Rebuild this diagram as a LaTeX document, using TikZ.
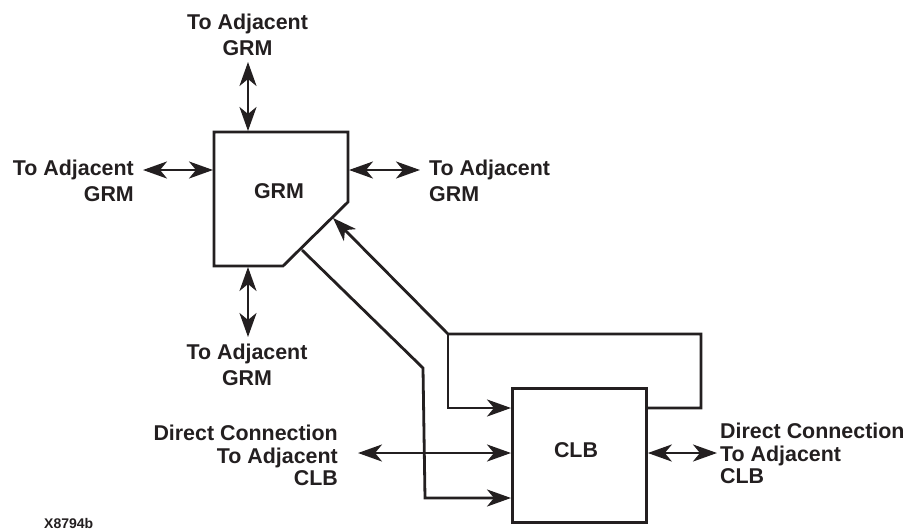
\documentclass[tikz,border=0pt]{standalone}
\usepackage{fontspec}
\setmainfont{Liberation Sans}
\usetikzlibrary{arrows.meta}
\definecolor{ink}{HTML}{231F20}
\tikzset{
  wire/.style={line width=2.8pt,ink},
  tip/.tip={Stealth[length=24pt,width=17pt,inset=7pt]},
  dbl/.style={wire,tip-tip},
  sgl/.style={wire,-tip},
  lbl/.style={font=\bfseries\fontsize{21.4}{26}\selectfont,inner sep=0pt,align=center,text=ink},
  tight/.style={font=\bfseries\fontsize{21.4}{22.5}\selectfont},
}
\begin{document}
\begin{tikzpicture}[x=1pt,y=-1pt]
\useasboundingbox (0,0) rectangle (906,531);
% GRM
\coordinate (g1) at (214,132);
\coordinate (g2) at (348,132);
\coordinate (g3) at (348,202);
\coordinate (g4) at (283,266);
\coordinate (g5) at (214,266);
\draw[wire,line join=miter] (g1)--(g2)--(g3)--(g4)--(g5)--cycle;
\node[lbl] (grm) at (279,191) {GRM};
% CLB
\node[draw,wire,minimum width=134pt,minimum height=134pt,inner sep=0pt,anchor=north west] (clb) at (511,387) {};
\node[lbl] (clbt) at (576,450) {CLB};
% Labels
\node[lbl] (top) at (247.5,35) {To Adjacent\\GRM};
\node[lbl,align=right,anchor=east] (left) at (134,181) {To Adjacent\\GRM};
\node[lbl,align=left,anchor=west] (right) at (429,181) {To Adjacent\\GRM};
\node[lbl] (bot) at (247,365) {To Adjacent\\GRM};
\node[lbl,tight,align=right,anchor=east] (dl) at (338,455.5) {Direct Connection\\To Adjacent\\CLB};
\node[lbl,tight,align=left,anchor=west] (dr) at (720,453.5) {Direct Connection\\To Adjacent\\CLB};
\node[font=\bfseries\fontsize{14}{16}\selectfont,inner sep=0pt,anchor=west,text=ink] (code) at (44,523.5) {X8794b};
% Double arrows
\coordinate (a1) at (248,62); \coordinate (a2) at (248,131);
\draw[dbl] (a1)--(a2);
\coordinate (b1) at (143,170); \coordinate (b2) at (213,170);
\draw[dbl] (b1)--(b2);
\coordinate (c1) at (349,170); \coordinate (c2) at (420,170);
\draw[dbl] (c1)--(c2);
\coordinate (d1) at (248,267); \coordinate (d2) at (248,337);
\draw[dbl] (d1)--(d2);
\coordinate (e1) at (358,453);
\draw[dbl] (e1)--(clb.west |- e1);
\coordinate (f2) at (717,453);
\draw[dbl] (clb.east |- f2)--(f2);
% Loop
\coordinate (p1) at (645,408); \coordinate (p2) at (701,408);
\coordinate (p3) at (701,334); \coordinate (p4) at (448,334);
\coordinate (p5) at (333,218);
\draw[sgl,line join=miter] (p1)--(p2)--(p3)--(p4)--(p5);
\coordinate (q2) at (448,408);
\draw[sgl,line join=miter] (p4)--(q2)--(clb.west |- q2);
% Lower path
\coordinate (r1) at (302,250); \coordinate (r2) at (423,368);
\coordinate (r3) at (425,498);
\draw[sgl,line join=miter] (r1)--(r2)--(r3)--(clb.west |- r3);
\end{tikzpicture}
\end{document}
